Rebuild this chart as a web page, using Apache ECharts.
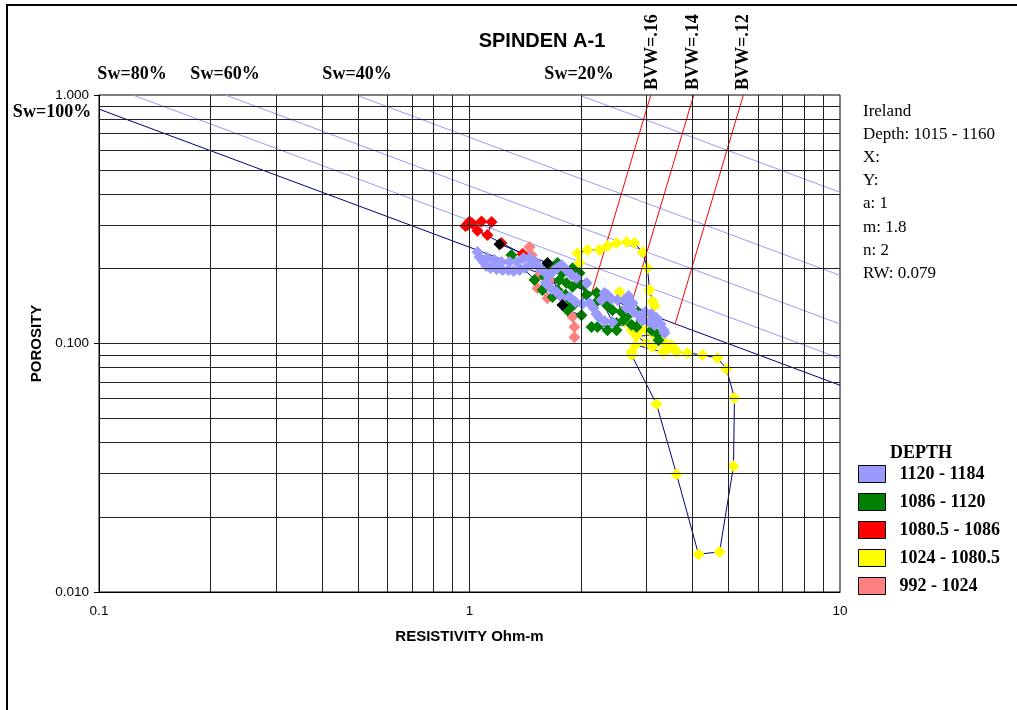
<!DOCTYPE html>
<html><head><meta charset="utf-8">
<script src="https://cdn.jsdelivr.net/npm/echarts@6.0.0/dist/echarts.min.js"></script>
<style>html,body{margin:0;padding:0;background:#fff}#c{width:1017px;height:710px}</style>
</head><body><div id="c"></div>
<script>
// ---- axis / grid values ----
const xRange = [0.1, 10];
const yRange = [0.01, 1];
const gridX = [0.2,0.3,0.4,0.5,0.6,0.7,0.8,0.9,1,2,3,4,5,6,7,8,9];
const gridY = [0.02,0.03,0.04,0.05,0.06,0.07,0.08,0.09,0.1,0.2,0.3,0.4,0.5,0.6,0.7,0.8,0.9];

// ---- Sw lines (Archie, a=1, m=1.8, n=2, Rw=0.079): start / end points ----
const swNames = ['Sw=100%','Sw=80%','Sw=60%','Sw=40%','Sw=20%'];
const swStart = [[0.1,0.8773],[0.1234,1],[0.2194,1],[0.4938,1],[1.975,1]];
const swEnd   = [[10,0.0679],[10,0.0870],[10,0.1198],[10,0.1880],[10,0.4061]];
// ---- BVW lines ----
const bvwNames = ['BVW=.16','BVW=.14','BVW=.12'];
const bvwStart = [[3.086,1],[4.031,1],[5.486,1]];
const bvwEnd   = [[2.139,0.16],[2.720,0.14],[3.590,0.12]];

// ---- data series [resistivity, porosity] ----
const depthNames = ['1120 - 1184','1086 - 1120','1080.5 - 1086','1024 - 1080.5','992 - 1024'];
const depthColors = ['#9999FF','#008000','#FF0000','#FFFF00','#FF8080'];

const s992_1024 = [[1.399,0.229],[1.434,0.223],[1.452,0.2445],[1.470,0.227],[1.498,0.213],[1.564,0.198],[1.526,0.185],[1.644,0.180],[1.526,0.167],[1.624,0.152],[1.717,0.161],[1.897,0.128],[1.920,0.1165],[1.920,0.106]];

const s1024_1080 = [[1.981,0.211],[1.957,0.231],[2.082,0.238],[2.243,0.238],[2.358,0.247],[2.494,0.254],[2.654,0.256],[2.788,0.254],[2.930,0.233],[3.023,0.201],[3.061,0.164],[3.118,0.148],[3.157,0.142],[3.099,0.127],[2.541,0.161],[2.509,0.150],[2.621,0.122],[2.737,0.113],[2.876,0.113],[3.004,0.113],[3.197,0.1165],[3.298,0.106],[3.157,0.108],[2.823,0.107],[3.004,0.1005],[3.118,0.0968],[3.257,0.103],[3.360,0.1005],[3.466,0.0968],[3.575,0.095],[3.509,0.0986],[3.402,0.0941],[3.318,0.0924],[2.806,0.0986],[2.737,0.0924],[2.737,0.0899],[3.197,0.0571],[3.620,0.0298],[4.150,0.0142],[4.731,0.0145],[5.158,0.0321],[5.189,0.0603],[4.939,0.0790],[4.672,0.0874],[4.256,0.0899],[3.876,0.0916],[3.620,0.0924]];

const s1080_1086 = [[0.975,0.297],[0.988,0.300],[1.000,0.310],[1.019,0.303],[1.077,0.310],[1.147,0.308],[1.118,0.273],[1.051,0.284],[1.220,0.254],[1.390,0.229]];

const s1086_1120 = [[1.298,0.227],[1.498,0.180],[1.594,0.185],[1.624,0.205],[1.728,0.211],[1.665,0.196],[1.782,0.192],[1.897,0.201],[1.981,0.192],[1.957,0.189],[1.981,0.175],[1.897,0.169],[1.827,0.175],[1.749,0.180],[1.728,0.164],[1.574,0.164],[1.675,0.154],[1.816,0.157],[1.862,0.150],[1.909,0.143],[1.839,0.136],[2.006,0.130],[2.044,0.172],[2.069,0.157],[2.202,0.160],[2.271,0.152],[2.202,0.147],[2.343,0.143],[2.432,0.136],[2.572,0.134],[2.654,0.128],[2.605,0.124],[2.494,0.121],[2.494,0.113],[2.358,0.113],[2.215,0.1165],[2.135,0.1165],[2.737,0.119],[2.823,0.1165],[2.841,0.133],[2.930,0.124],[3.099,0.113],[3.217,0.109],[3.237,0.103]];

const s1120_1184 = [[1.452,0.2208],[1.399,0.2208],[1.348,0.2128],[1.282,0.2128],[1.220,0.2128],[1.168,0.2168],[1.118,0.2208],[1.051,0.2334],[1.064,0.2228],[1.091,0.2128],[1.111,0.2050],[1.140,0.2013],[1.183,0.1994],[1.228,0.1976],[1.274,0.1976],[1.315,0.1957],[1.365,0.1976],[1.416,0.2013],[1.461,0.2070],[1.507,0.2128],[1.545,0.2013],[1.594,0.1939],[1.634,0.1869],[1.675,0.1939],[1.728,0.2013],[1.771,0.2070],[1.827,0.1976],[1.885,0.1886],[1.944,0.1835],[2.069,0.1752],[1.604,0.1752],[1.665,0.1657],[1.717,0.1611],[1.782,0.1524],[1.862,0.1538],[1.932,0.1469],[2.018,0.1442],[2.108,0.1455],[2.161,0.1389],[2.202,0.1314],[2.243,0.1266],[2.314,0.1231],[2.432,0.1220],[2.271,0.1496],[2.314,0.1596],[2.358,0.1567],[2.417,0.151],[2.509,0.1496],[2.621,0.1496],[2.687,0.1553],[2.754,0.1455],[2.654,0.1389],[2.720,0.1416],[2.771,0.1339],[2.876,0.1290],[2.985,0.1339],[3.099,0.1314],[3.197,0.1266],[2.930,0.1243],[3.061,0.1220],[3.157,0.1187],[3.277,0.1198],[3.339,0.1133],[3.360,0.1102]];

const sOther = [[1.205,0.251],[1.624,0.211],[1.782,0.143]];

const infoLines = ['Ireland','Depth: 1015 - 1160','X:','Y:','a: 1','m: 1.8','n: 2','RW: 0.079'];

// ---- build chart ----
const chart = echarts.init(document.getElementById('c'), null, {renderer:'canvas'});
const SERIF = '"Liberation Serif","Times New Roman",serif';
const SANS = '"Liberation Sans",Arial,sans-serif';

const series = [];
// grid lines
series.push({
  type:'line', data:[[1,0.1]], symbol:'none', lineStyle:{width:0}, z:1, silent:true,
  markLine:{
    silent:true, symbol:['none','none'], label:{show:false}, animation:false,
    lineStyle:{type:'solid', color:'#222', width:1},
    emphasis:{disabled:true},
    data: gridX.map(v=>({xAxis:v})).concat(gridY.map(v=>({yAxis:v})))
  }
});
swNames.forEach((n,i)=>{
  series.push({type:'line', name:n, data:[swStart[i], swEnd[i]], symbol:'none', z:2, silent:true,
    lineStyle:{color: i===0 ? '#000080' : '#9999FF', width:1}});
});
bvwNames.forEach((n,i)=>{
  series.push({type:'line', name:n, data:[bvwStart[i], bvwEnd[i]], symbol:'none', z:2, silent:true,
    lineStyle:{color:'#FF0000', width:1}});
});
function depthSeries(name, color, data){
  return {type:'line', name:name, data:data, symbol:'diamond', symbolSize:12, showSymbol:true, showAllSymbol:true,
    z:3, silent:true, itemStyle:{color:color}, lineStyle:{color:'#000080', width:1}, emphasis:{disabled:true}};
}
series.push(depthSeries(depthNames[4], depthColors[4], s992_1024));
series.push(depthSeries(depthNames[3], depthColors[3], s1024_1080));
series.push(depthSeries(depthNames[2], depthColors[2], s1080_1086));
series.push(depthSeries(depthNames[1], depthColors[1], s1086_1120));
series.push(depthSeries(depthNames[0], depthColors[0], s1120_1184));
series.push(depthSeries('other', '#000000', sOther));

const swLabelPos = [[52,112],[132,74],[225,74],[357,74],[579,74]];
const bvwLabelX = [652,693,743];

const graphic = [
  {type:'rect', shape:{x:7,y:5,width:1200,height:1200}, style:{fill:'none', stroke:'#000', lineWidth:2}, silent:true},
  {type:'text', x:542, y:41, style:{text:'SPINDEN A-1', font:'bold 20px '+SANS, fill:'#000', align:'center', verticalAlign:'middle', textAlign:'center', textVerticalAlign:'middle'}},
  {type:'text', x:921, y:453, style:{text:'DEPTH', font:'bold 18px '+SERIF, fill:'#000', align:'center', verticalAlign:'middle', textAlign:'center', textVerticalAlign:'middle'}},
  {type:'text', x:863, y:99.5, style:{text:infoLines.join('\n'), font:'17px '+SERIF, lineHeight:23.2, fill:'#000', align:'left', verticalAlign:'top', textAlign:'left', textVerticalAlign:'top'}}
];
swNames.forEach((n,i)=>{
  graphic.push({type:'text', x:swLabelPos[i][0], y:swLabelPos[i][1], style:{text:n, font:'bold 18px '+SERIF, fill:'#000', align:'center', verticalAlign:'middle', textAlign:'center', textVerticalAlign:'middle'}});
});
bvwNames.forEach((n,i)=>{
  graphic.push({type:'text', x:bvwLabelX[i], y:90, rotation:Math.PI/2, style:{text:n, font:'bold 18px '+SERIF, fill:'#000', align:'left', verticalAlign:'middle', textAlign:'left', textVerticalAlign:'middle'}});
});

chart.setOption({
  animation:false,
  backgroundColor:'#fff',
  grid:{left:99, top:95, right:177, bottom:118, show:true, borderColor:'#000', borderWidth:1, backgroundColor:'transparent', containLabel:false, outerBoundsMode:'none'},
  xAxis:{type:'log', logBase:10, min:xRange[0], max:xRange[1],
    name:'RESISTIVITY Ohm-m', nameLocation:'middle', nameGap:37,
    nameTextStyle:{fontFamily:SANS, fontWeight:'bold', fontSize:15, color:'#000'},
    axisLine:{show:true, lineStyle:{color:'#000', width:1}}, axisTick:{show:false},
    axisLabel:{show:true, margin:12, fontFamily:SANS, fontSize:13.5, color:'#000', showMinLabel:true, showMaxLabel:true, formatter:v=>String(+Number(v).toPrecision(6))},
    splitLine:{show:false}, minorTick:{show:false}, minorSplitLine:{show:false}},
  yAxis:{type:'log', logBase:10, min:yRange[0], max:yRange[1],
    name:'POROSITY', nameLocation:'middle', nameGap:50, nameRotate:90,
    nameTextStyle:{fontFamily:SANS, fontWeight:'bold', fontSize:15, color:'#000'},
    axisLine:{show:true, lineStyle:{color:'#000', width:1}}, axisTick:{show:true, length:5, lineStyle:{color:'#000'}},
    axisLabel:{show:true, margin:10, fontFamily:SANS, fontSize:13.5, color:'#000', showMinLabel:true, showMaxLabel:true, formatter:v=>Number(v).toFixed(3)},
    splitLine:{show:false}},
  legend:{show:true, orient:'vertical', left:858, top:465, padding:0, itemWidth:27, itemHeight:17, itemGap:10,
    icon:'rect', selectedMode:false, data:depthNames,
    itemStyle:{borderColor:'#000', borderWidth:1},
    textStyle:{fontFamily:SERIF, fontWeight:'bold', fontSize:18, color:'#000', lineHeight:17, padding:[0,0,0,9]}},
  tooltip:{show:false},
  graphic: graphic,
  series: series
});
</script></body></html>
